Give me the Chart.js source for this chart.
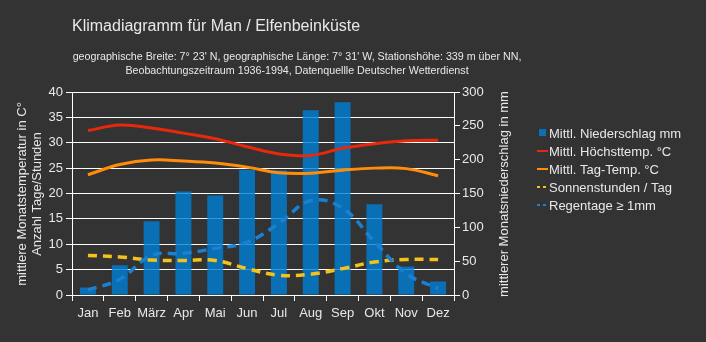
<!DOCTYPE html>
<html>
<head>
<meta charset="utf-8">
<script src="https://cdn.jsdelivr.net/npm/chart.js@4/dist/chart.umd.min.js"></script>
<style>
  html, body { margin: 0; padding: 0; background: #333333; }
  #wrap { width: 706px; height: 342px; position: relative; }
</style>
</head>
<body>
<div id="wrap"><canvas id="chart" width="706" height="342"></canvas></div>
<script>
const months = ["Jan", "Feb", "März", "Apr", "Mai", "Jun", "Jul", "Aug", "Sep", "Okt", "Nov", "Dez"];
const precipitation = [11, 44, 109, 153, 147, 185, 184, 273, 285, 134, 42, 20];
const maxTemp = [32.4, 33.5, 32.9, 31.9, 30.8, 29.2, 27.8, 27.5, 28.9, 29.8, 30.4, 30.5];
const dayTemp = [23.7, 25.7, 26.6, 26.4, 26.0, 25.2, 24.1, 24.0, 24.6, 25.0, 24.9, 23.5];
const sunHours = [7.8, 7.5, 6.9, 6.8, 6.8, 5.2, 3.9, 4.1, 5.2, 6.5, 7.0, 7.0];
const rainDays = [1.0, 3.1, 7.8, 8.2, 9.2, 10.4, 14.1, 18.6, 17.1, 10.5, 4.2, 1.3];
const tempTicks = [0, 5, 10, 15, 20, 25, 30, 35, 40];
const precipTicks = [0, 50, 100, 150, 200, 250, 300];

const FONT = "'Liberation Sans', Arial, sans-serif";
const TEXT = "#e8e8e8";

// titles, axis titles and legend drawn by hand so they sit where the original has them
const decorations = {
  id: "decorations",
  beforeDraw(chart) {
    const c = chart.ctx;
    c.save();
    c.fillStyle = "#333333";
    c.fillRect(0, 0, chart.width, chart.height);
    c.restore();
  },
  afterDraw(chart) {
    const c = chart.ctx;
    c.save();
    c.fillStyle = TEXT;
    c.textBaseline = "middle";

    c.font = "16px " + FONT;
    c.textAlign = "left";
    c.fillText("Klimadiagramm für Man / Elfenbeinküste", 72, 27);

    c.font = "10.7px " + FONT;
    c.textAlign = "center";
    c.fillText("geographische Breite: 7° 23' N, geographische Länge: 7° 31' W, Stationshöhe: 339 m über NN,", 297, 57);
    c.fillText("Beobachtungszeitraum 1936-1994, Datenquellle Deutscher Wetterdienst", 297, 71);

    c.font = "13px " + FONT;
    const midY = 194;
    c.save();
    c.translate(22, midY);
    c.rotate(-Math.PI / 2);
    c.fillText("mittlere Monatstemperatur in C°", 0, 0);
    c.restore();
    c.save();
    c.translate(37, midY);
    c.rotate(-Math.PI / 2);
    c.fillText("Anzahl Tage/Stunden", 0, 0);
    c.restore();
    c.save();
    c.translate(504, midY);
    c.rotate(-Math.PI / 2);
    c.fillText("mittlerer Monatsniederschlag in mm", 0, 0);
    c.restore();

    // legend
    c.textAlign = "left";
    c.font = "13px " + FONT;
    const lx = 538, ly = 133, step = 18;
    chart.data.datasets.forEach((ds, i) => {
      const y = ly + i * step;
      if (ds.type === "bar") {
        c.fillStyle = ds.backgroundColor;
        c.fillRect(lx + 1, y - 4, 7, 7);
      } else {
        c.strokeStyle = ds.borderColor;
        c.lineWidth = 2;
        c.setLineDash(ds.borderDash ? [3, 3] : []);
        c.beginPath();
        c.moveTo(lx - 1, y);
        c.lineTo(lx + 10, y);
        c.stroke();
        c.setLineDash([]);
      }
      c.fillStyle = TEXT;
      c.fillText(ds.label, lx + 11, y + 1);
    });
    c.restore();
  }
};

new Chart(document.getElementById("chart"), {
  data: {
    labels: months,
    datasets: [
      {
        type: "bar",
        label: "Mittl. Niederschlag mm",
        data: precipitation,
        yAxisID: "y1",
        backgroundColor: "rgba(0,128,215,0.8)",
        barPercentage: 0.5,
        categoryPercentage: 1,
        order: 5,
      },
      {
        type: "line",
        label: "Mittl. Höchsttemp. °C",
        data: maxTemp,
        yAxisID: "y",
        borderColor: "#e8280c",
        borderWidth: 3,
        pointRadius: 0,
        tension: 0.4,
        order: 2,
      },
      {
        type: "line",
        label: "Mittl. Tag-Temp. °C",
        data: dayTemp,
        yAxisID: "y",
        borderColor: "#ff8c0a",
        borderWidth: 3,
        pointRadius: 0,
        tension: 0.4,
        order: 3,
      },
      {
        type: "line",
        label: "Sonnenstunden / Tag",
        data: sunHours,
        yAxisID: "y",
        borderColor: "#f4c21a",
        borderWidth: 3.5,
        borderDash: [9, 6],
        pointRadius: 0,
        tension: 0.4,
        order: 1,
      },
      {
        type: "line",
        label: "Regentage ≥ 1mm",
        data: rainDays,
        yAxisID: "y",
        borderColor: "#1a80d2",
        borderWidth: 3.5,
        borderDash: [9, 6],
        pointRadius: 0,
        tension: 0.4,
        order: 0,
      },
    ],
  },
  options: {
    responsive: false,
    animation: false,
    layout: { padding: { top: 92, left: 0, right: 0, bottom: 0 } },
    plugins: { legend: { display: false }, title: { display: false }, tooltip: { enabled: false } },
    scales: {
      x: {
        offset: true,
        grid: { offset: true, drawOnChartArea: false, color: "#ffffff", tickLength: 6 },
        border: { display: true, color: "#ffffff" },
        ticks: { color: TEXT, font: { size: 13, family: FONT }, padding: 5, maxRotation: 0, autoSkip: false },
        afterFit(s) { s.height = 47; },
      },
      y: {
        position: "left",
        min: 0,
        max: 40,
        afterBuildTicks(s) { s.ticks = tempTicks.map(v => ({ value: v })); },
        grid: { color: "#ffffff", lineWidth: 1, tickLength: 6 },
        border: { display: true, color: "#ffffff" },
        ticks: { color: TEXT, font: { size: 13, family: FONT }, padding: 3 },
        afterFit(s) { s.width = 72; },
      },
      y1: {
        position: "right",
        min: 0,
        max: 300,
        afterBuildTicks(s) { s.ticks = precipTicks.map(v => ({ value: v })); },
        grid: { drawOnChartArea: false, color: "#ffffff", tickLength: 6 },
        border: { display: true, color: "#ffffff" },
        ticks: { color: TEXT, font: { size: 13, family: FONT }, padding: 2 },
        afterFit(s) { s.width = 252; },
      },
    },
  },
  plugins: [decorations],
});
</script>
</body>
</html>
